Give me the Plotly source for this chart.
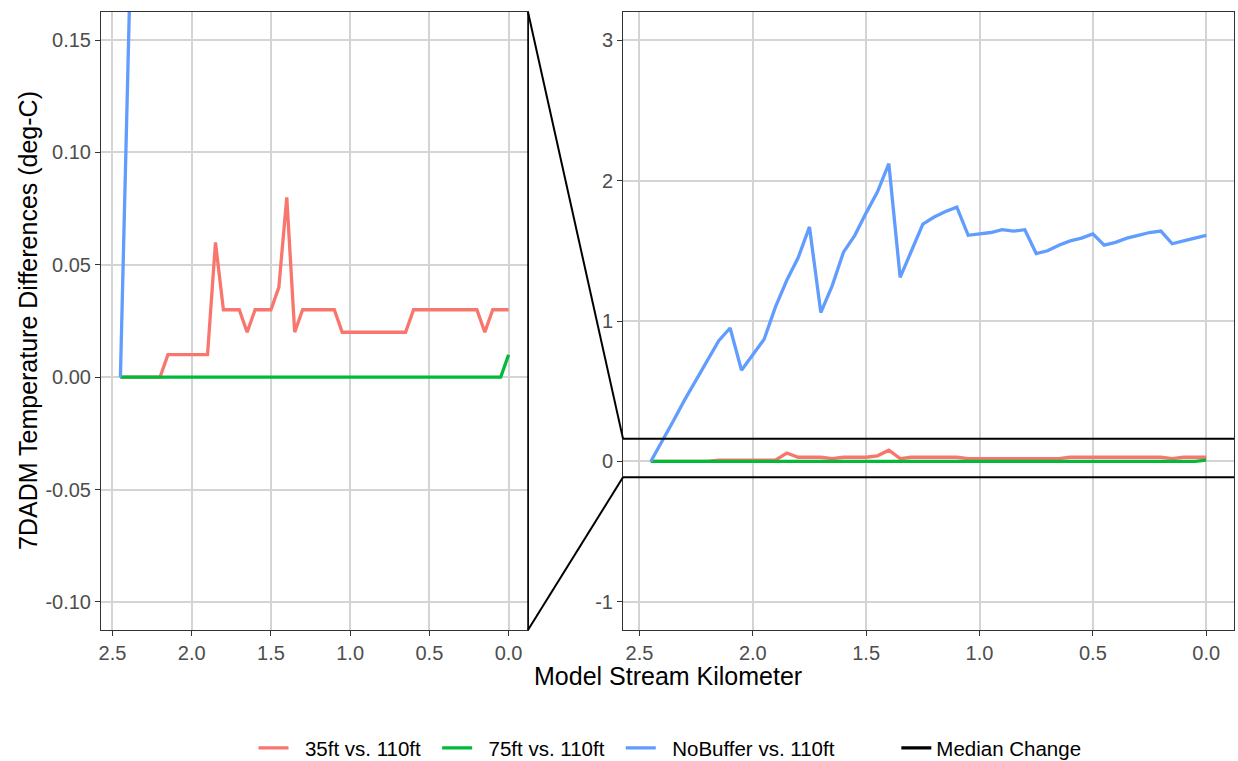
import plotly.graph_objects as go

# ---------------- data ----------------
km = [2.45, 2.40, 2.35, 2.30, 2.25, 2.20, 2.15, 2.10, 2.05, 2.00,
      1.95, 1.90, 1.85, 1.80, 1.75, 1.70, 1.65, 1.60, 1.55, 1.50,
      1.45, 1.40, 1.35, 1.30, 1.25, 1.20, 1.15, 1.10, 1.05, 1.00,
      0.95, 0.90, 0.85, 0.80, 0.75, 0.70, 0.65, 0.60, 0.55, 0.50,
      0.45, 0.40, 0.35, 0.30, 0.25, 0.20, 0.15, 0.10, 0.05, 0.00]

diff_35 = [0.00, 0.00, 0.00, 0.00, 0.00, 0.00, 0.01, 0.01, 0.01, 0.01,
           0.01, 0.01, 0.06, 0.03, 0.03, 0.03, 0.02, 0.03, 0.03, 0.03,
           0.04, 0.08, 0.02, 0.03, 0.03, 0.03, 0.03, 0.03, 0.02, 0.02,
           0.02, 0.02, 0.02, 0.02, 0.02, 0.02, 0.02, 0.03, 0.03, 0.03,
           0.03, 0.03, 0.03, 0.03, 0.03, 0.03, 0.02, 0.03, 0.03, 0.03]

diff_75 = [0.00] * 49 + [0.01]

diff_nobuf = [0.00, 0.14, 0.29, 0.44, 0.58, 0.72, 0.86, 0.95, 0.65, 0.76,
              0.87, 1.10, 1.29, 1.45, 1.67, 1.06, 1.25, 1.49, 1.61, 1.77,
              1.92, 2.12, 1.31, 1.50, 1.69, 1.74, 1.78, 1.81, 1.61, 1.62,
              1.63, 1.65, 1.64, 1.65, 1.48, 1.50, 1.54, 1.57, 1.59, 1.62,
              1.54, 1.56, 1.59, 1.61, 1.63, 1.64, 1.55, 1.57, 1.59, 1.61]

series_names = ["35ft vs. 110ft", "75ft vs. 110ft", "NoBuffer vs. 110ft"]
series_colors = ["#F8766D", "#00BA38", "#619CFF"]
series_values = [diff_35, diff_75, diff_nobuf]
median_name = "Median Change"

x_ticks = [2.5, 2.0, 1.5, 1.0, 0.5, 0.0]
x_ticktext = ["2.5", "2.0", "1.5", "1.0", "0.5", "0.0"]
zoom_ticks = [-0.10, -0.05, 0.00, 0.05, 0.10, 0.15]
zoom_ticktext = ["-0.10", "-0.05", "0.00", "0.05", "0.10", "0.15"]
full_ticks = [-1, 0, 1, 2, 3]
full_ticktext = ["-1", "0", "1", "2", "3"]

zoom_lim = [-0.10, 0.15]
full_lim = [-1.0, 3.0]


def expand(lim, f=0.05):
    d = (lim[1] - lim[0]) * f
    return [lim[0] - d, lim[1] + d]


x_rng = expand([0.0, 2.45])[::-1]
zoom_rng = expand(zoom_lim)
full_rng = expand(full_lim)

# ---------------- layout geometry ----------------
W, H = 1238, 761
ML, MR, MT, MB = 101, 4, 12, 761 - 630
PW = W - ML - MR
PH = H - MT - MB


def px_x(p):  # page x -> paper x
    return (p - ML) / PW


def px_y(p):  # page y -> paper y
    return (MT + PH - p) / PH


left_dom = [0.0, px_x(528)]
right_dom = [px_x(623), 1.0]

FONT = "Liberation Sans, Arial, Helvetica, sans-serif"
NB = "\u00a0"

fig = go.Figure()

for name, col, vals in zip(series_names, series_colors, series_values):
    fig.add_trace(go.Scatter(x=km, y=vals, mode="lines", name=name,
                             line=dict(color=col, width=3.3),
                             xaxis="x", yaxis="y", showlegend=False))
for i, (name, col, vals) in enumerate(zip(series_names, series_colors, series_values)):
    lname = NB * 2 + name + NB * 2
    if i == 2:
        lname = NB * 2 + name + NB * 10
    fig.add_trace(go.Scatter(x=km, y=vals, mode="lines", name=lname,
                             line=dict(color=col, width=3.3),
                             xaxis="x2", yaxis="y2", showlegend=True))
fig.add_trace(go.Scatter(x=[None], y=[None], mode="lines", name=median_name,
                         line=dict(color="black", width=3.3),
                         xaxis="x2", yaxis="y2", showlegend=True))

axis_common = dict(
    showgrid=True, gridcolor="#D4D4D4", gridwidth=1.6,
    zeroline=False, showline=True, linecolor="#333333", linewidth=1,
    mirror=True, ticks="outside", ticklen=5, tickcolor="#333333", tickwidth=1,
    tickfont=dict(family=FONT, size=20, color="#4D4D4D"),
    automargin=False,
)

fig.update_layout(
    width=W, height=H,
    margin=dict(l=ML, r=MR, t=MT, b=MB, autoexpand=False),
    paper_bgcolor="white", plot_bgcolor="white",
    font=dict(family=FONT, color="black"),
    xaxis=dict(domain=left_dom, range=x_rng, tickmode="array",
               tickvals=x_ticks, ticktext=x_ticktext, anchor="y", **axis_common),
    yaxis=dict(domain=[0, 1], range=zoom_rng, tickmode="array",
               tickvals=zoom_ticks, ticktext=zoom_ticktext, anchor="x", **axis_common),
    xaxis2=dict(domain=right_dom, range=x_rng, tickmode="array",
                tickvals=x_ticks, ticktext=x_ticktext, anchor="y2", **axis_common),
    yaxis2=dict(domain=[0, 1], range=full_rng, tickmode="array",
                tickvals=full_ticks, ticktext=full_ticktext, anchor="x2", **axis_common),
    legend=dict(orientation="h", x=px_x(670), xanchor="center",
                y=px_y(748), yanchor="middle",
                font=dict(family=FONT, size=20.5, color="black"),
                bgcolor="rgba(0,0,0,0)", traceorder="normal"),
    showlegend=True,
)


# zoom indicator: convert zoom limits into paper coordinates of right panel
def y2_paper(v):
    return (v - full_rng[0]) / (full_rng[1] - full_rng[0])


top_p = y2_paper(zoom_rng[1])
bot_p = y2_paper(zoom_rng[0])
line_style = dict(color="black", width=2)
shapes = [
    dict(type="line", xref="paper", yref="paper", x0=left_dom[1], x1=left_dom[1],
         y0=0, y1=1, line=dict(color="black", width=1.5)),
    dict(type="line", xref="paper", yref="paper", x0=left_dom[1], y0=1,
         x1=right_dom[0], y1=top_p, line=line_style),
    dict(type="line", xref="paper", yref="paper", x0=left_dom[1], y0=0,
         x1=right_dom[0], y1=bot_p, line=line_style),
    dict(type="line", xref="paper", yref="paper", x0=right_dom[0], y0=top_p,
         x1=right_dom[1], y1=top_p, line=line_style),
    dict(type="line", xref="paper", yref="paper", x0=right_dom[0], y0=bot_p,
         x1=right_dom[1], y1=bot_p, line=line_style),
]
fig.update_layout(shapes=shapes)

fig.add_annotation(text="7DADM Temperature Differences (deg-C)",
                   xref="paper", yref="paper", x=px_x(28), y=0.5,
                   xanchor="center", yanchor="middle", textangle=-90,
                   showarrow=False, font=dict(family=FONT, size=25, color="black"))
fig.add_annotation(text="Model Stream Kilometer",
                   xref="paper", yref="paper", x=px_x(668), y=px_y(676),
                   xanchor="center", yanchor="middle",
                   showarrow=False, font=dict(family=FONT, size=25, color="black"))

fig.write_html(
    "out.html",
    config={"displayModeBar": False},
    post_script="document.body.style.margin='0';document.body.style.padding='0';"
                "document.body.style.overflow='hidden';",
)
